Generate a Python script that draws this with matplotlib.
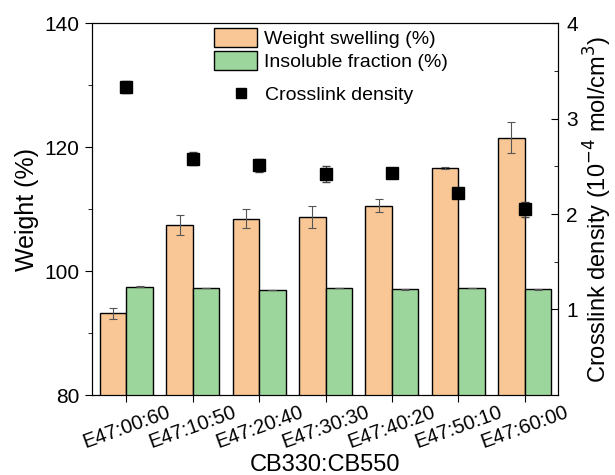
import numpy as np
import matplotlib.pyplot as plt
from matplotlib.ticker import MultipleLocator

plt.rcParams['font.family'] = ['Liberation Sans', 'DejaVu Sans']

labels = ["E47:00:60", "E47:10:50", "E47:20:40", "E47:30:30", "E47:40:20", "E47:50:10", "E47:60:00"]
swelling = [93.2, 107.4, 108.5, 108.7, 110.6, 116.7, 121.5]
swelling_err = [0.9, 1.6, 1.6, 1.8, 1.0, 0.15, 2.5]
insoluble = [97.5, 97.3, 97.0, 97.3, 97.1, 97.3, 97.1]
insoluble_err = [0.05, 0.05, 0.05, 0.05, 0.05, 0.05, 0.05]
crosslink = [3.33, 2.58, 2.51, 2.42, 2.43, 2.22, 2.05]
crosslink_err = [0.06, 0.07, 0.07, 0.08, 0.02, 0.02, 0.08]

x = np.arange(len(labels))
w = 0.4

fig = plt.figure(figsize=(6.15, 4.75), dpi=100)
ax = fig.add_axes([0.150, 0.168, 0.757, 0.783])

ekw = dict(ecolor="#555555", elinewidth=0.8, capsize=3, capthick=0.8)
b1 = ax.bar(x - w/2, swelling, w, color="#F9C795", edgecolor="black", linewidth=1,
            yerr=swelling_err, error_kw=ekw)
b2 = ax.bar(x + w/2, insoluble, w, color="#9CD69C", edgecolor="black", linewidth=1,
            yerr=insoluble_err, error_kw=ekw)
ax.set_ylim(80, 140)
ax.set_xlim(-0.515, 6.5)
ax.yaxis.set_major_locator(MultipleLocator(20))
ax.yaxis.set_minor_locator(MultipleLocator(10))
ax.set_xticks(x)
ax.set_xticklabels(labels, rotation=20, ha="center", fontsize=14.5)
ax.tick_params(axis="y", labelsize=15, direction="out", length=5, pad=4)
ax.tick_params(axis="y", which="minor", length=3)
ax.tick_params(axis="x", direction="out", length=5, pad=0)
ax.set_ylabel("Weight (%)", fontsize=18, labelpad=4)
ax.set_xlabel("CB330:CB550", fontsize=17)
ax.xaxis.set_label_coords(0.5, -0.158)

ax2 = ax.twinx()
p = ax2.errorbar(x, crosslink, yerr=crosslink_err, fmt="s", color="black", markersize=8,
                 ecolor="#444444", elinewidth=0.8, capsize=3)
ax2.set_ylim(0.1, 4)
ax2.set_yticks([1, 2, 3, 4])
ax2.set_yticks([1.5, 2.5, 3.5], minor=True)
ax2.tick_params(axis="y", labelsize=15, direction="in", length=5, pad=6)
ax2.tick_params(axis="y", which="minor", direction="in", length=3)
ax2.set_ylabel("Crosslink density (10$^{-4}$ mol/cm$^3$)", fontsize=17, labelpad=3)

leg1 = ax2.legend([b1, b2], ["Weight swelling (%)", "Insoluble fraction (%)"],
                  loc="upper left", bbox_to_anchor=(0.225, 1.035), frameon=False, fontsize=14,
                  handlelength=2.2, handleheight=1.15, labelspacing=0.15, handletextpad=0.37)
ax2.add_artist(leg1)
ax2.legend([p[0]], ["Crosslink density"], loc="center left", bbox_to_anchor=(0.237, 0.806),
           frameon=False, fontsize=14, handlelength=2.2, handletextpad=0.1, markerscale=0.9)

fig.savefig("out.png", dpi=100)
